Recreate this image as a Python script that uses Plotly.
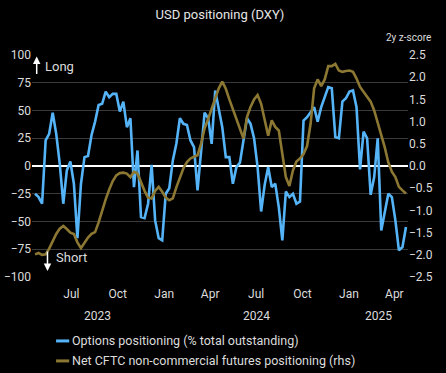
import plotly.graph_objects as go
import pandas as pd

# ---------------- data ----------------
dates = pd.date_range("2023-04-20", periods=106, freq="7D")

options_positioning = [
    -25, -28, -34, 23, 29, 48, 29, 2, -34, -4,
    4, -16, -65, -16, 8, 9, 28, 40, 55, 56,
    67, 62, 65, 65, 49, 58, 35, 43, -19, 14,
    -46, -47, -34, 1, -49, -65, -67, -25, -20, 5,
    20, 43, 38, 37, 23, 17, -22, 10, 48, 43,
    20, 68, 50, 35, 8, 8, -16, -1, 3, 23,
    43, 38, 25, -1, -41, -17, -1, -19, -16, -37,
    -67, -23, -28, -25, -34, -32, 41, 44, 49, 53,
    40, 53, 62, 71, 70, 26, 25, 58, 61, 67,
    68, 53, -3, 31, 25, -26, -10, 25, -58, -43,
    -25, -28, -49, -76, -73, -55,
]

cftc_zscore = [
    -1.99, -1.96, -2.00, -1.99, -1.86, -1.68, -1.53, -1.41, -1.35, -1.42,
    -1.50, -1.53, -1.72, -1.85, -1.74, -1.61, -1.53, -1.49, -1.27, -1.00,
    -0.75, -0.53, -0.34, -0.21, -0.16, -0.15, -0.17, -0.25, -0.13, -0.17,
    -0.37, -0.56, -0.71, -0.73, -0.56, -0.47, -0.58, -0.71, -0.77, -0.73,
    -0.48, -0.25, -0.05, 0.09, 0.17, 0.21, 0.24, 0.50, 0.85, 1.06,
    1.28, 1.52, 1.75, 1.90, 1.74, 1.50, 1.28, 1.08, 0.85, 0.62,
    1.10, 1.33, 1.50, 1.60, 1.40, 1.00, 0.68, 1.03, 0.88, 0.80,
    0.25, -0.25, -0.45, -0.10, 0.10, 0.17, 0.27, 0.45, 0.95, 1.75,
    1.95, 1.80, 1.95, 2.25, 2.25, 2.30, 2.15, 2.12, 2.14, 2.15,
    2.12, 1.97, 1.78, 1.67, 1.58, 1.45, 1.25, 0.98, 0.68, 0.42,
    0.08, -0.13, -0.25, -0.47, -0.55, -0.62,
]

left_ticks = [100, 75, 50, 25, 0, -25, -50, -75, -100]
right_ticks = [2.5, 2.0, 1.5, 1.0, 0.5, 0.0, -0.5, -1.0, -1.5, -2.0, -2.5]
year_labels = ["2023", "2024", "2025"]
year_label_dates = ["2023-08-22", "2024-07-02", "2025-03-01"]
series_names = [
    "Options positioning (% total outstanding)",
    "Net CFTC non-commercial futures positioning (rhs)",
]

# ---------------- style ----------------
BLUE = "#55B4F7"
GOLD = "#8C7833"
TXT = "#DCDCDC"
GRID = "#3A3A3A"
FONT = "Roboto"

fig = go.Figure()
fig.add_trace(go.Scatter(x=dates, y=options_positioning, mode="lines",
                         name=series_names[0], line=dict(color=BLUE, width=2.6),
                         yaxis="y"))
fig.add_trace(go.Scatter(x=dates, y=cftc_zscore, mode="lines",
                         name=series_names[1], line=dict(color=GOLD, width=2.6),
                         yaxis="y2"))

annotations = []
# year labels (second tick level)
for lbl, d in zip(year_labels, year_label_dates):
    annotations.append(dict(x=d, xref="x", y=-0.176, yref="paper", text=lbl,
                            showarrow=False, xanchor="center", yanchor="middle",
                            font=dict(family=FONT, size=12, color=TXT)))
# axis sub-title
annotations.append(dict(x=1.066, xref="paper", y=1.081, yref="paper", text="2y z-score",
                        showarrow=False, xanchor="right", yanchor="middle",
                        font=dict(family=FONT, size=10, color=TXT)))
# Long / Short markers
annotations.append(dict(x=0.0125, xref="paper", y=0.993, yref="paper", text="",
                        showarrow=True, ax=0, ay=19, arrowhead=2, arrowsize=1,
                        arrowwidth=1.5, arrowcolor="white"))
annotations.append(dict(x=0.03, xref="paper", y=0.946, yref="paper", text="Long",
                        showarrow=False, xanchor="left", yanchor="middle",
                        font=dict(family=FONT, size=13, color=TXT)))
annotations.append(dict(x=0.0412, xref="paper", y=0.027, yref="paper", text="",
                        showarrow=True, ax=0, ay=-21, arrowhead=2, arrowsize=1,
                        arrowwidth=1.5, arrowcolor="white"))
annotations.append(dict(x=0.059, xref="paper", y=0.0856, yref="paper", text="Short",
                        showarrow=False, xanchor="left", yanchor="middle",
                        font=dict(family=FONT, size=13, color=TXT)))
# manual legend
legend_rows = [-0.288, -0.378]
shapes = []
for name, col, ly in zip(series_names, [BLUE, GOLD], legend_rows):
    shapes.append(dict(type="line", xref="paper", yref="paper", x0=0.064, x1=0.099,
                       y0=ly, y1=ly, line=dict(color=col, width=3)))
    annotations.append(dict(x=0.1, xref="paper", y=ly, yref="paper", text=name,
                            showarrow=False, xanchor="left", yanchor="middle",
                            font=dict(family=FONT, size=12.5, color=TXT)))

fig.update_layout(
    width=446, height=373,
    margin=dict(l=32, r=38, t=55, b=96),
    paper_bgcolor="black", plot_bgcolor="black",
    showlegend=False,
    title=dict(text="USD positioning (DXY)", x=0.5, xref="paper", xanchor="center",
               y=0.96, yanchor="middle",
               font=dict(family=FONT, size=13, color="#E6E6E6")),
    font=dict(family=FONT, color=TXT),
    xaxis=dict(type="date", range=["2023-04-14", "2025-04-28"],
               dtick="M3", tick0="2023-01-01", tickformat="%b",
               showgrid=False, zeroline=False, showline=False, ticks="",
               ticklabelstandoff=8, automargin=False,
               tickfont=dict(family=FONT, size=12, color=TXT)),
    yaxis=dict(range=[-100, 100], tickvals=left_ticks, showgrid=True,
               gridcolor=GRID, gridwidth=1, zeroline=True, zerolinecolor="white",
               zerolinewidth=2, showline=False, ticks="", automargin=False,
               tickfont=dict(family=FONT, size=12, color=TXT)),
    yaxis2=dict(range=[-2.5, 2.5], tickvals=right_ticks, tickformat=".1f",
                overlaying="y", side="right", showgrid=False, zeroline=False,
                showline=False, ticks="", automargin=False,
                tickfont=dict(family=FONT, size=12, color=TXT)),
    annotations=annotations,
    shapes=shapes,
)

fig.write_html(
    "out.html",
    config={"displayModeBar": False},
    post_script="document.body.style.margin='0';document.body.style.overflow='hidden';",
)
